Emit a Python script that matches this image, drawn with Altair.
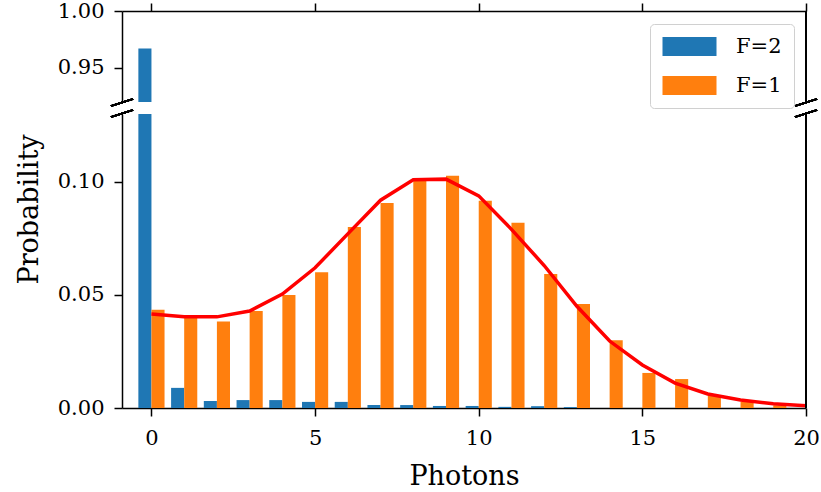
import altair as alt
import pandas as pd

# ---- data ----
photons = list(range(21))
p_f2 = [0.967, 0.0089, 0.0031, 0.0035, 0.0035, 0.0027, 0.0027, 0.0013, 0.0013, 0.0009,
        0.0009, 0.0005, 0.0008, 0.0004, 0.0, 0.0, 0.0, 0.0, 0.0, 0.0, 0.0]
p_f1 = [0.0434, 0.0398, 0.0382, 0.0429, 0.0500, 0.0600, 0.0800, 0.0907, 0.1004, 0.1027,
        0.0916, 0.0819, 0.0593, 0.0460, 0.0300, 0.0155, 0.0128, 0.0055, 0.0027, 0.0012, 0.0004]
fit = [0.0416, 0.0403, 0.0403, 0.0429, 0.0504, 0.0620, 0.0770, 0.0919, 0.1009, 0.1012,
       0.0938, 0.0790, 0.0630, 0.0450, 0.0296, 0.0190, 0.0110, 0.0062, 0.0035, 0.0019, 0.0010]
series = ["F=2", "F=1"]
colors = ["#1f77b4", "#ff7f0e"]

FONT = "DejaVu Serif"
W = 684
H_TOP = 91
H_BOT = 294
XDOM = [-0.9, 20]

bars_df = pd.concat([
    pd.DataFrame({"n": photons, "F": "F=2", "p": p_f2}),
    pd.DataFrame({"n": photons, "F": "F=1", "p": p_f1}),
])
fit_df = pd.DataFrame({"n": photons, "fit": fit})

xscale = alt.Scale(domain=XDOM, nice=False, zero=False)


def bar_layer(ydom, yaxis, xaxis, legend):
    return alt.Chart(bars_df).transform_calculate(
        x0="datum.F == 'F=2' ? datum.n - 0.4 : datum.n",
        x1="datum.F == 'F=2' ? datum.n : datum.n + 0.4",
    ).mark_bar(clip=True).encode(
        x=alt.X("x0:Q", scale=xscale, axis=xaxis),
        x2="x1:Q",
        y=alt.Y("p:Q", scale=alt.Scale(domain=ydom, nice=False, zero=False), axis=yaxis),
        y2=alt.datum(0),
        color=alt.Color("F:N", scale=alt.Scale(domain=series, range=colors), legend=legend),
    )


def deco(h, top_side):
    # right spine and axis-break slashes
    cy = h + 0.5 if top_side else -0.5
    spine = alt.Chart(fit_df).mark_rule(color="black", strokeWidth=1.5).encode(
        x=alt.value(W), y=alt.value(0), y2=alt.value(h))
    slashes = []
    for cx in (0, W):
        slashes.append(alt.Chart(fit_df).mark_rule(color="black", strokeWidth=1.5).encode(
            x=alt.value(cx - 11), x2=alt.value(cx + 11),
            y=alt.value(cy + 3.5), y2=alt.value(cy - 3.5)))
    return [spine] + slashes


legend = alt.Legend(
    title=None, orient="none", legendX=528, legendY=13,
    symbolType="M-1,-0.95H4.4V0.95H-1Z", symbolSize=400, symbolStrokeWidth=0,
    symbolOpacity=1,
    labelFont=FONT, labelFontSize=21, labelOffset=53, rowPadding=17,
    padding=12, strokeColor="#d0d0d0", fillColor="white", cornerRadius=4,
    labelColor="black",
)

top_x_axis = alt.Axis(orient="top", labels=False, title=None, values=[0, 5, 10, 15, 20],
                      grid=False, tickSize=8)
top_y_axis = alt.Axis(values=[0.95, 1.0], format=".2f", title=None, grid=False, tickSize=8)

top = alt.layer(
    bar_layer([0.92, 1.0], top_y_axis, top_x_axis, legend),
    *deco(H_TOP, True),
).properties(width=W, height=H_TOP)

bot_x_axis = alt.Axis(orient="bottom", title="Photons", values=[0, 5, 10, 15, 20],
                      grid=False, tickSize=8, labelPadding=11, titlePadding=15,
                      labelFlush=False)
bot_y_axis = alt.Axis(values=[0, 0.05, 0.1], format=".2f", title="Probability", grid=False,
                      tickSize=8, titleX=-93, titleY=95, titleAngle=270,
                      titleAlign="center", titleBaseline="middle")

line = alt.Chart(fit_df).mark_line(color="red", strokeWidth=3.5, clip=True).encode(
    x=alt.X("n:Q", scale=xscale),
    y=alt.Y("fit:Q"),
)

bottom = alt.layer(
    bar_layer([0, 0.13], bot_y_axis, bot_x_axis, None),
    line,
    *deco(H_BOT, False),
).properties(width=W, height=H_BOT)

chart = alt.vconcat(top, bottom, spacing=0).resolve_legend(
    color="independent"
).configure_view(
    stroke=None
).configure_axis(
    labelFont=FONT, titleFont=FONT, labelFontSize=21, titleFontSize=27,
    titleFontWeight="normal", labelColor="black", titleColor="black",
    domainColor="black", tickColor="black", domainWidth=1.5, tickWidth=1.5,
    labelPadding=10,
).properties(padding={"left": 15, "top": 0, "right": 0, "bottom": 0}, background="white")

chart.save("out.html", embed_options={"renderer": "svg", "actions": False})
